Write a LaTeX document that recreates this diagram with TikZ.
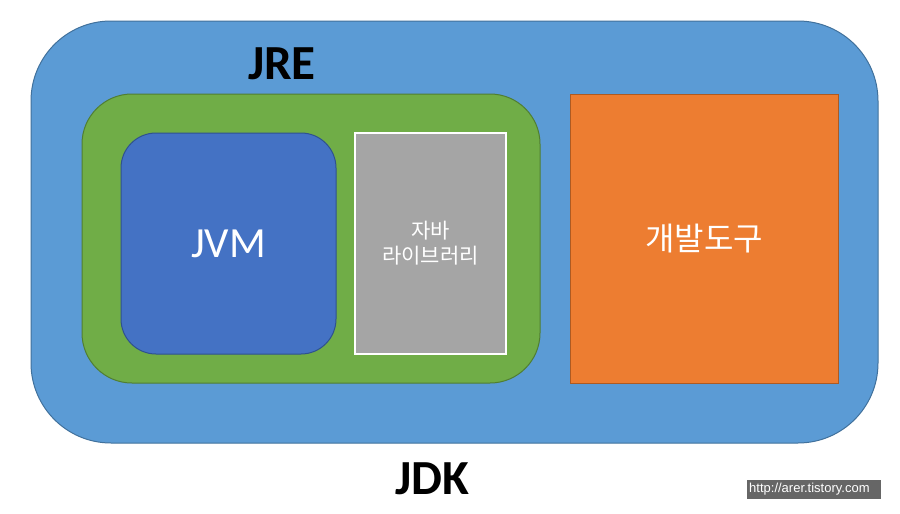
\documentclass[tikz,border=0pt]{standalone}
\usepackage{fontspec}
\setmainfont{Carlito}
\newfontfamily\krfont{Noto Sans CJK KR}
\newfontfamily\wmfont{Liberation Sans}
\definecolor{jdkblue}{HTML}{5B9BD5}
\definecolor{jdkedge}{HTML}{41719C}
\definecolor{jregreen}{HTML}{70AD47}
\definecolor{jreedge}{HTML}{507E32}
\definecolor{jvmblue}{HTML}{4472C4}
\definecolor{jvmedge}{HTML}{2F528F}
\definecolor{libgray}{HTML}{A5A5A5}
\definecolor{toolorange}{HTML}{ED7D31}
\definecolor{tooledge}{HTML}{AE5A21}
\definecolor{wmgray}{HTML}{666666}
\tikzset{
  box/.style={inner sep=0pt, outer sep=0pt, line width=1pt},
  title/.style={font=\bfseries\fontsize{49}{55}\selectfont, text=black, inner sep=0pt}
}
\begin{document}
\begin{tikzpicture}[x=1pt,y=-1pt]
\useasboundingbox (0,0) rectangle (900,514);
\fill[white] (0,0) rectangle (900,514);
\node[box, fill=jdkblue, draw=jdkedge, rounded corners=80pt, minimum width=847pt, minimum height=422pt] (jdk) at (454.5,232) {};
\node[box, fill=jregreen, draw=jreedge, rounded corners=50pt, minimum width=458pt, minimum height=289pt] (jre) at (311,238.5) {};
\node[box, fill=jvmblue, draw=jvmedge, rounded corners=35pt, minimum width=215pt, minimum height=221pt, text=white, font=\fontsize{43}{48}\selectfont] (jvm) at (228.5,243.5) {JVM};
\node[box, fill=libgray, draw=white, line width=1.5pt, minimum width=151pt, minimum height=221pt, text=white, align=center, font=\krfont\fontsize{21}{25}\selectfont] (lib) at (430.5,243.5) {자바\\라이브러리};
\node[box, fill=toolorange, draw=tooledge, minimum width=268pt, minimum height=289pt, text=white, font=\krfont\fontsize{32}{36}\selectfont] (tools) at (704,238.5) {개발도구};
\node[title] (jretitle) at (282,64) {JRE};
\node[title] (jdktitle) at (432,479) {JDK};
\node[box, fill=wmgray, minimum width=134pt, minimum height=19pt] (wm) at (814,489.5) {};
\node[inner sep=0pt, anchor=west, text=white, font=\wmfont\fontsize{13}{14}\selectfont] (wmtext) at (749,489.5) {http://arer.tistory.com};
\end{tikzpicture}
\end{document}
